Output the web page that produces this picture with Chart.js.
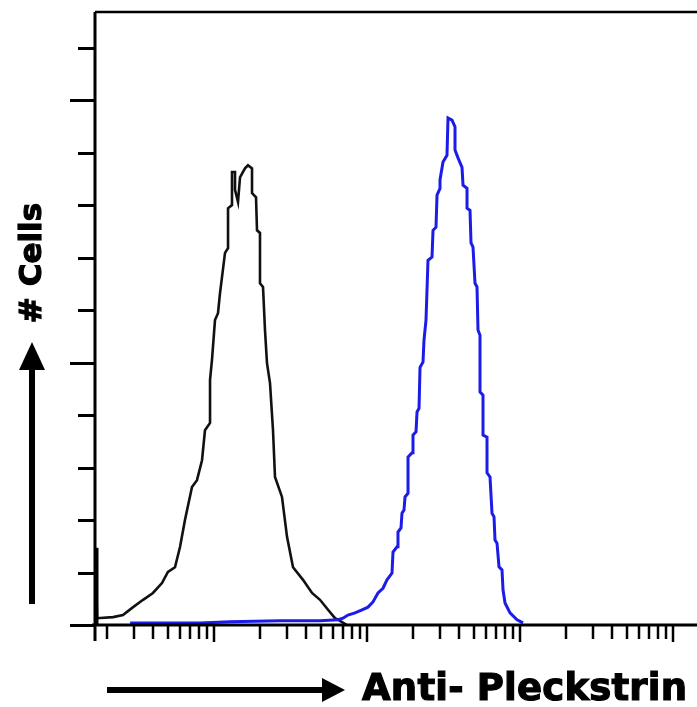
<!DOCTYPE html>
<html>
<head>
<meta charset="utf-8">
<title>Anti- Pleckstrin flow cytometry</title>
<script src="https://cdn.jsdelivr.net/npm/chart.js@4.4.1/dist/chart.umd.min.js"></script>
<style>
    html, body { margin: 0; padding: 0; background: #fff; }
    #wrap { position: relative; width: 697px; height: 707px; overflow: hidden; }
    #histo { position: absolute; left: 0; top: 0; }
    #arrows { position: absolute; left: 0; top: 0; pointer-events: none; }
    .axis-title {
        position: absolute;
        font-family: "DejaVu Sans", sans-serif;
        font-weight: bold;
        color: #000;
        white-space: nowrap;
        -webkit-text-stroke: 1.2px #000;
    }
    #xTitle { left: 362px; top: 669px; font-size: 37px; line-height: 37px; letter-spacing: 0.2px; }
    #yTitle {
        left: -70px; top: 243px; width: 200px; height: 40px;
        font-size: 31px; line-height: 40px; text-align: center;
        transform: rotate(-90deg);
    }
</style>
</head>
<body>
<div id="wrap">
    <canvas id="histo" width="697" height="707"></canvas>
    <svg id="arrows" width="697" height="707">
        <rect x="29" y="366" width="6" height="238" fill="#000"></rect>
        <polygon points="32,342 19,370 45,370" fill="#000"></polygon>
        <rect x="107" y="687" width="218" height="6" fill="#000"></rect>
        <polygon points="345,690 322,678 322,702" fill="#000"></polygon>
    </svg>
    <div class="axis-title" id="yTitle"># Cells</div>
    <div class="axis-title" id="xTitle">Anti- Pleckstrin</div>
</div>
<script>
// --- Data (fluorescence on log scale, counts in y-tick units) ---
const controlX = [1.69, 1.72, 2.19, 2.54, 2.96, 3.44, 3.99, 4.57, 5.0, 5.56,
    6.0, 6.46, 7.18, 7.74, 8.35, 8.73, 9.42, 9.42, 9.70, 10.15,
    10.62, 10.94, 11.28, 11.80, 12.35, 12.35, 13.11, 13.11, 13.72, 13.72,
    14.35, 14.79, 15.94, 16.68, 17.72, 17.72, 18.82, 19.10, 19.98, 19.98,
    20.91, 21.54, 22.20, 23.23, 24.30, 25.04, 27.82, 30.01, 32.84, 38.16,
    43.71, 49.30, 55.61, 61.77, 66.61, 74.0];
const controlY = [1.47, 0.13, 0.15, 0.19, 0.34, 0.48, 0.61, 0.80, 1.01, 1.10,
    1.49, 2.00, 2.63, 2.76, 3.14, 3.71, 3.85, 4.67, 5.05, 5.81,
    5.94, 6.32, 6.63, 7.09, 7.18, 7.94, 8.00, 8.63, 8.63, 8.29,
    8.06, 8.53, 8.70, 8.76, 8.70, 8.23, 8.15, 7.52, 7.47, 6.51,
    6.44, 5.62, 4.99, 4.61, 3.71, 2.82, 2.44, 1.68, 1.10, 0.86,
    0.61, 0.48, 0.29, 0.13, 0.08, 0];

const pleckX = [2.83, 8.1, 12.7, 27.0, 49.3, 64.7, 69.7, 75.1, 83.5, 92.8,
    101.5, 109.4, 118, 127.2, 135.1, 145.7, 147.9, 157.1, 159.4, 166.8,
    169.3, 174.5, 177.2, 185.4, 185.4, 196.9, 199.8, 209.1, 212.3, 218.8,
    222.1, 232.3, 235.8, 243, 250.4, 266, 270.1, 282.5, 286.8, 300,
    300, 313.8, 333.3, 338.4, 359.4, 376, 376, 393.4, 417.8, 424.2,
    450.5, 450.5, 471.3, 478.4, 493, 508.1, 523.6, 531.5, 547.7, 547.7,
    573, 573, 608.6, 608.6, 636.8, 656.3, 676.3, 686.5, 707.5, 729.1,
    762.8, 774.4, 798.2, 860.4, 956, 1046];
const pleckY = [0.04, 0.04, 0.06, 0.08, 0.08, 0.10, 0.13, 0.19, 0.23, 0.29,
    0.34, 0.44, 0.61, 0.70, 0.86, 0.99, 1.39, 1.49, 1.77, 1.85,
    2.13, 2.19, 2.44, 2.51, 3.20, 3.28, 3.62, 3.68, 4.06, 4.13,
    4.91, 5.01, 5.43, 5.81, 6.95, 7.01, 7.52, 7.58, 8.19, 8.32,
    8.48, 8.82, 8.95, 9.66, 9.62, 9.49, 9.05, 8.90, 8.72, 8.38,
    8.32, 7.94, 7.90, 7.28, 7.20, 6.51, 6.44, 5.62, 5.52, 4.44,
    4.38, 3.62, 3.58, 2.90, 2.82, 2.13, 2.06, 1.62, 1.56, 1.11,
    1.05, 0.67, 0.42, 0.23, 0.10, 0.04];

// --- Tick values (no labels in the original) ---
const yTickValues = [0, 1, 2, 3, 4, 5, 6, 7, 8, 9, 10, 11];
const yMajorTicks = [0, 5, 10];
const xTickValues = [2, 3, 4, 5, 6, 7, 8, 9,
    10, 20, 30, 40, 50, 60, 70, 80, 90,
    100, 200, 300, 400, 500, 600, 700, 800, 900,
    1000, 2000, 3000, 4000, 5000, 6000, 7000, 8000, 9000,
    10000];
const xDecades = [10, 100, 1000, 10000];
const xRange = [1.668, 14350];
const yRange = [0, 11.68];

function toPoints(xs, ys) {
    return xs.map(function (x, i) { return { x: x, y: ys[i] }; });
}

// --- Frame, axes and ticks drawn from the scales ---
const facsFrame = {
    id: 'facsFrame',
    afterDraw: function (chart) {
        const ctx = chart.ctx;
        const area = chart.chartArea;
        const xs = chart.scales.x;
        const ys = chart.scales.y;

        function seg(x1, y1, x2, y2) {
            ctx.beginPath();
            ctx.moveTo(x1, y1);
            ctx.lineTo(x2, y2);
            ctx.stroke();
        }

        ctx.save();
        ctx.strokeStyle = '#000';
        ctx.lineCap = 'butt';

        // y ticks
        ctx.lineWidth = 3;
        yTickValues.forEach(function (v) {
            const py = Math.round(ys.getPixelForValue(v)) + 0.5;
            const len = yMajorTicks.indexOf(v) >= 0 ? 25 : 17;
            seg(area.left - len, py, area.left, py);
        });

        // x ticks
        ctx.lineWidth = 2.5;
        xTickValues.forEach(function (v) {
            const px = Math.round(xs.getPixelForValue(v));
            const len = xDecades.indexOf(v) >= 0 ? 17 : 14;
            seg(px, area.bottom, px, area.bottom + len);
        });

        // axis lines + top border
        ctx.lineWidth = 3;
        seg(area.left, area.top, area.left, area.bottom + 16);
        seg(area.left - 3, area.bottom, area.right, area.bottom);
        ctx.lineWidth = 2.5;
        seg(area.left, area.top, area.right, area.top);

        // thick first-channel spike of the control
        ctx.lineWidth = 4;
        seg(area.left + 1.5, ys.getPixelForValue(controlY[0]), area.left + 1.5, area.bottom);

        ctx.restore();
    }
};

new Chart(document.getElementById('histo'), {
    type: 'line',
    data: {
        datasets: [{
            label: 'Anti- Pleckstrin',
            data: toPoints(pleckX, pleckY),
            borderColor: '#1c1ce8',
            borderWidth: 3,
            pointRadius: 0,
            tension: 0,
            fill: false
        }, {
            label: 'Control',
            data: toPoints(controlX, controlY),
            borderColor: '#111',
            borderWidth: 2.6,
            pointRadius: 0,
            tension: 0,
            fill: false
        }]
    },
    options: {
        responsive: false,
        animation: false,
        devicePixelRatio: 1,
        parsing: false,
        layout: { padding: { left: 95, top: 12, right: 0, bottom: 82 } },
        plugins: {
            legend: { display: false },
            tooltip: { enabled: false }
        },
        scales: {
            x: {
                type: 'logarithmic',
                min: xRange[0],
                max: xRange[1],
                display: false
            },
            y: {
                type: 'linear',
                min: yRange[0],
                max: yRange[1],
                display: false
            }
        }
    },
    plugins: [facsFrame]
});
</script>
</body>
</html>
